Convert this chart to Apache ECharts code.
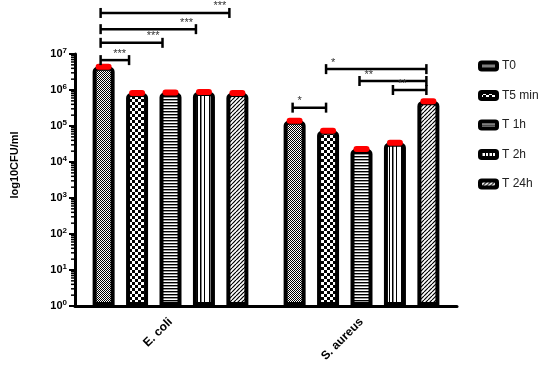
<!DOCTYPE html>
<html>
<head>
<meta charset="utf-8">
<script src="https://cdn.jsdelivr.net/npm/echarts@6/dist/echarts.min.js"></script>
<style>
  html, body { margin: 0; padding: 0; background: #fff; }
  #chart { width: 550px; height: 373px; }
</style>
</head>
<body>
<div id="chart"></div>
<script>
var categories = ['E. coli', 'S. aureus'];
var seriesNames = ['T0', 'T5 min', 'T 1h', 'T 2h', 'T 24h'];
var t0 = [4.4e6, 1.4e5];
var t5min = [8.3e5, 7.4e4];
var t1h = [8.5e5, 2.3e4];
var t2h = [8.8e5, 3.4e4];
var t24h = [8.2e5, 4.9e5];

// significance brackets: group, from bar, to bar, height (log10), label
var sigGroup = [0, 0, 0, 0, 1, 1, 1, 1];
var sigFrom = [0, 0, 0, 0, 0, 1, 2, 3];
var sigTo = [1, 2, 3, 4, 1, 4, 4, 4];
var sigLevel = [6.83, 7.31, 7.69, 8.14, 5.51, 6.58, 6.25, 6.0];
var sigText = ['***', '***', '***', '***', '*', '*', '**', '**'];

var allValues = [t0, t5min, t1h, t2h, t24h];
var BAR_W = 22;
var BAR_GAP = 0.52;
var STEP = BAR_W * (1 + BAR_GAP);

// fill patterns
function makePattern(kind) {
  var c = document.createElement('canvas');
  var ctx = c.getContext('2d');
  var i;
  if (kind == 'fine') {
    c.width = 4; c.height = 4;
    ctx.fillStyle = '#fff'; ctx.fillRect(0, 0, 4, 4);
    ctx.fillStyle = '#000';
    ctx.fillRect(0, 0, 1, 1); ctx.fillRect(2, 0, 1, 1);
    ctx.fillRect(1, 1, 1, 1); ctx.fillRect(3, 1, 1, 1);
    ctx.fillRect(0, 2, 1, 1); ctx.fillRect(2, 2, 1, 1);
    ctx.fillRect(1, 3, 1, 1); ctx.fillRect(3, 3, 1, 1);
  } else if (kind == 'checker') {
    c.width = 6; c.height = 6;
    ctx.fillStyle = '#fff'; ctx.fillRect(0, 0, 6, 6);
    ctx.fillStyle = '#000';
    ctx.fillRect(0, 0, 3, 3); ctx.fillRect(3, 3, 3, 3);
  } else if (kind == 'hlines') {
    c.width = 4; c.height = 3;
    ctx.fillStyle = '#fff'; ctx.fillRect(0, 0, 4, 3);
    ctx.fillStyle = '#000'; ctx.fillRect(0, 0, 4, 1.4);
  } else if (kind == 'vlines') {
    c.width = 16; c.height = 4;
    ctx.fillStyle = '#fff'; ctx.fillRect(0, 0, 16, 4);
    ctx.fillStyle = '#000';
    ctx.fillRect(1, 0, 1.5, 4); ctx.fillRect(5, 0, 1, 4);
    ctx.fillRect(8, 0, 1.5, 4); ctx.fillRect(12, 0, 1, 4);
  } else {
    c.width = 4; c.height = 4;
    ctx.fillStyle = '#fff'; ctx.fillRect(0, 0, 4, 4);
    ctx.strokeStyle = '#000'; ctx.lineWidth = 1.2;
    for (i = -1; i <= 1; i++) {
      ctx.beginPath();
      ctx.moveTo(i * 4, 4); ctx.lineTo(i * 4 + 4, 0);
      ctx.stroke();
    }
  }
  return { image: c, repeat: 'repeat' };
}
var patterns = ['fine', 'checker', 'hlines', 'vlines', 'diag'].map(makePattern);

var capData = [];
allValues.forEach(function(arr, s) {
  arr.forEach(function(v, i) { capData.push([i, v, s]); });
});

var sigData = sigGroup.map(function(g, k) {
  return [g, Math.pow(10, sigLevel[k]), sigFrom[k], sigTo[k], k];
});

var minorTicks = [];
for (var n = 0; n < 7; n++) {
  for (var m = 2; m < 10; m++) minorTicks.push([0, m * Math.pow(10, n)]);
}

var series = seriesNames.map(function(name, s) {
  return {
    name: name,
    type: 'bar',
    barWidth: BAR_W,
    barGap: (BAR_GAP * 100) + '%',
    data: allValues[s],
    itemStyle: {
      color: patterns[s],
      borderColor: '#000',
      borderWidth: 4,
      borderRadius: [3, 3, 0, 0]
    }
  };
});

series.push({
  type: 'custom',
  z: 5,
  clip: false,
  data: capData,
  encode: { x: 0, y: 1 },
  renderItem: function(params, api) {
    var p = api.coord([api.value(0), api.value(1)]);
    var x = p[0] + (api.value(2) - 2) * STEP;
    return {
      type: 'rect',
      shape: { x: x - 8, y: p[1] - 3, width: 16, height: 6, r: 3 },
      style: { fill: '#ff0000' }
    };
  }
});

series.push({
  type: 'custom',
  z: 6,
  clip: false,
  data: sigData,
  encode: { x: 0, y: 1 },
  renderItem: function(params, api) {
    var g = api.value(0);
    var y = api.coord([g, api.value(1)])[1];
    var cx = api.coord([g, 1])[0];
    var startOff = g == 0 ? -3 : -2;
    var endOff = g == 0 ? -8 : -2;
    var x1 = cx + (api.value(2) - 2) * STEP + startOff;
    var x2 = cx + (api.value(3) - 2) * STEP + endOff;
    var lineStyle = { stroke: '#000', lineWidth: 2.5 };
    var label = sigText[api.value(4)];
    return {
      type: 'group',
      children: [
        { type: 'line', shape: { x1: x1, y1: y, x2: x2, y2: y }, style: lineStyle },
        { type: 'line', shape: { x1: x1, y1: y - 5, x2: x1, y2: y + 5 }, style: lineStyle },
        { type: 'line', shape: { x1: x2, y1: y - 5, x2: x2, y2: y + 5 }, style: lineStyle },
        {
          type: 'text',
          style: {
            text: label,
            x: g == 0 ? x2 - 3 : x1 + 5,
            y: y - 1,
            align: g == 0 ? 'right' : 'left',
            verticalAlign: 'bottom',
            fontSize: 11,
            fontFamily: 'Arial',
            fill: '#333'
          }
        }
      ]
    };
  }
});

series.push({
  type: 'custom',
  z: 4,
  clip: false,
  silent: true,
  data: minorTicks,
  encode: { x: 0, y: 1 },
  renderItem: function(params, api) {
    var y = api.coord([0, api.value(1)])[1];
    var x = params.coordSys.x;
    return {
      type: 'line',
      shape: { x1: x - 4, y1: y, x2: x, y2: y },
      style: { stroke: '#000', lineWidth: 1.5 }
    };
  }
});

var chart = echarts.init(document.getElementById('chart'));
chart.setOption({
  animation: false,
  textStyle: { fontFamily: 'Arial' },
  grid: { left: 75, right: 93, top: 54, bottom: 67 },
  legend: {
    data: seriesNames,
    orient: 'vertical',
    left: 473,
    top: 55,
    itemWidth: 17,
    itemHeight: 7,
    itemGap: 17.5,
    itemStyle: { borderWidth: 4 },
    textStyle: { fontSize: 12, color: '#222', fontFamily: 'Arial' }
  },
  xAxis: {
    type: 'category',
    data: categories,
    axisLine: { lineStyle: { color: '#000', width: 3 } },
    axisTick: { alignWithLabel: true, length: 5, lineStyle: { color: '#000', width: 2 } },
    axisLabel: {
      rotate: 45,
      margin: 14,
      fontSize: 12,
      fontWeight: 'bold',
      color: '#000',
      fontFamily: 'Arial'
    }
  },
  yAxis: {
    type: 'log',
    logBase: 10,
    min: 1,
    max: 1e7,
    interval: 1,
    name: 'log10CFU/ml',
    nameLocation: 'middle',
    nameGap: 55,
    nameTextStyle: { fontSize: 11, fontWeight: 'bold', color: '#000', fontFamily: 'Arial', padding: [0, 0, 0, 30] },
    axisLine: { show: true, lineStyle: { color: '#000', width: 3 } },
    axisTick: { show: true, length: 6, lineStyle: { color: '#000', width: 2 } },
    splitLine: { show: false },
    axisLabel: {
      margin: 8,
      color: '#000',
      formatter: function(v) {
        var e = Math.round(Math.log(v) / Math.LN10);
        return '{b|10}{s|' + e + '}';
      },
      rich: {
        b: { fontSize: 11, fontWeight: 'bold', fontFamily: 'Arial', color: '#000' },
        s: { fontSize: 8, fontWeight: 'bold', fontFamily: 'Arial', color: '#000', padding: [0, 0, 7, 0] }
      }
    }
  },
  series: series
});
</script>
</body>
</html>
